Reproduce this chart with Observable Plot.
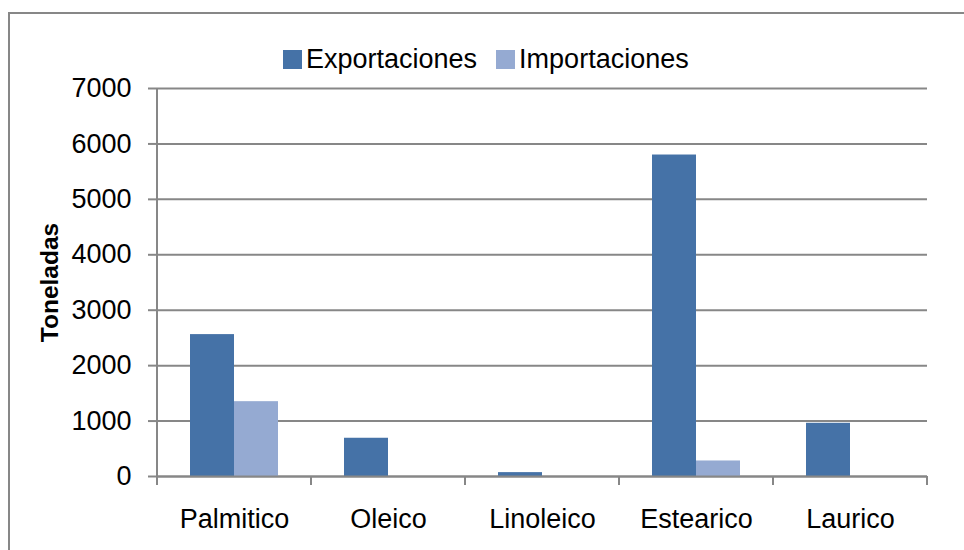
<!DOCTYPE html>
<html>
<head>
<meta charset="utf-8">
<script src="https://cdn.jsdelivr.net/npm/d3@7"></script>
<script src="https://cdn.jsdelivr.net/npm/@observablehq/plot@0.6"></script>
<style>
  html, body { margin: 0; padding: 0; background: #fff; }
  #wrap { position: relative; width: 964px; height: 550px; overflow: hidden; font-family: 'Liberation Sans', Arial, sans-serif; }
  #border { position: absolute; left: 8px; top: 12px; width: 1000px; height: 600px; border: 2px solid #878787; pointer-events: none; }
  #legend { position: absolute; left: 283px; top: 44px; display: flex; align-items: center; font-size: 27px; color: #000; white-space: nowrap; line-height: normal; }
  #legend .sw { width: 19px; height: 19px; display: inline-block; margin-right: 4px; }
  #legend .item { display: flex; align-items: center; margin-right: 19px; }
  #chart { position: absolute; left: 0; top: 0; }
</style>
</head>
<body>
<div id="wrap">
  <div id="chart"></div>
  <div id="legend"></div>
  <div id="border"></div>
</div>
<script>
const categories = ["Palmitico", "Oleico", "Linoleico", "Estearico", "Laurico"];
const seriesNames = ["Exportaciones", "Importaciones"];
const exportaciones = [2560, 690, 70, 5800, 960];
const importaciones = [1350, 0, 0, 280, 0];
const yTicks = [0, 1000, 2000, 3000, 4000, 5000, 6000, 7000];
const colors = ["#4572A7", "#95AAD2"];
const axisLabel = "Toneladas";

const rows = categories.flatMap((c, i) => [
  {category: c, series: seriesNames[0], value: exportaciones[i]},
  {category: c, series: seriesNames[1], value: importaciones[i]}
]);

const gray = "#878787";

const plot = Plot.plot({
  width: 964,
  height: 550,
  marginLeft: 157,
  marginRight: 37,
  marginTop: 88,
  marginBottom: 74,
  style: {fontFamily: "'Liberation Sans', Arial, sans-serif", fontSize: "27px", color: "#000", background: "transparent", overflow: "visible"},
  fx: {domain: categories, padding: 0, axis: null},
  x: {domain: seriesNames, paddingInner: 0, paddingOuter: 0.75, axis: null},
  y: {domain: [0, 7000], axis: null},
  color: {domain: seriesNames, range: colors},
  marks: [
    Plot.gridY({ticks: yTicks, stroke: gray, strokeOpacity: 1, strokeWidth: 2}),
    Plot.barY(rows, {fx: "category", x: "series", y: "value", fill: "series"}),
    Plot.ruleY([0], {stroke: gray, strokeWidth: 2}),
    Plot.axisY({ticks: yTicks, tickSize: 9, tickPadding: 17, stroke: gray, strokeWidth: 2, fontSize: 27, tickFormat: d => String(d), label: axisLabel, labelAnchor: "center", labelArrow: "none", labelOffset: 117}),
    Plot.axisFx({anchor: "bottom", tickSize: 0, tickPadding: 32, fontSize: 27, label: null})
  ]
});

document.getElementById("chart").appendChild(plot);

// bold axis title
const svg = d3.select(plot.tagName.toLowerCase() === "svg" ? plot : plot.querySelector("svg"));
svg.selectAll('g[aria-label="y-axis label"] text').attr("font-weight", "bold").attr("font-size", 24.5);

// axis line and category boundary ticks from the library's scales
const fxs = plot.scale("fx");
const ys = plot.scale("y");
const xa = fxs.range[0], xb = fxs.range[1];
const step = (xb - xa) / categories.length;
const y0 = ys.range[0], yTop = ys.range[1];
const g = svg.append("g").attr("stroke", gray).attr("stroke-width", 2);
g.append("line").attr("x1", xa).attr("x2", xa).attr("y1", yTop).attr("y2", y0);
for (let i = 0; i <= categories.length; i++) {
  const x = xa + i * step;
  g.append("line").attr("x1", x).attr("x2", x).attr("y1", y0).attr("y2", y0 + 9);
}

// legend
const legend = document.getElementById("legend");
seriesNames.forEach((s, i) => {
  const item = document.createElement("div");
  item.className = "item";
  const sw = document.createElement("span");
  sw.className = "sw";
  sw.style.background = colors[i];
  const t = document.createElement("span");
  t.textContent = s;
  item.appendChild(sw);
  item.appendChild(t);
  legend.appendChild(item);
});
</script>
</body>
</html>
